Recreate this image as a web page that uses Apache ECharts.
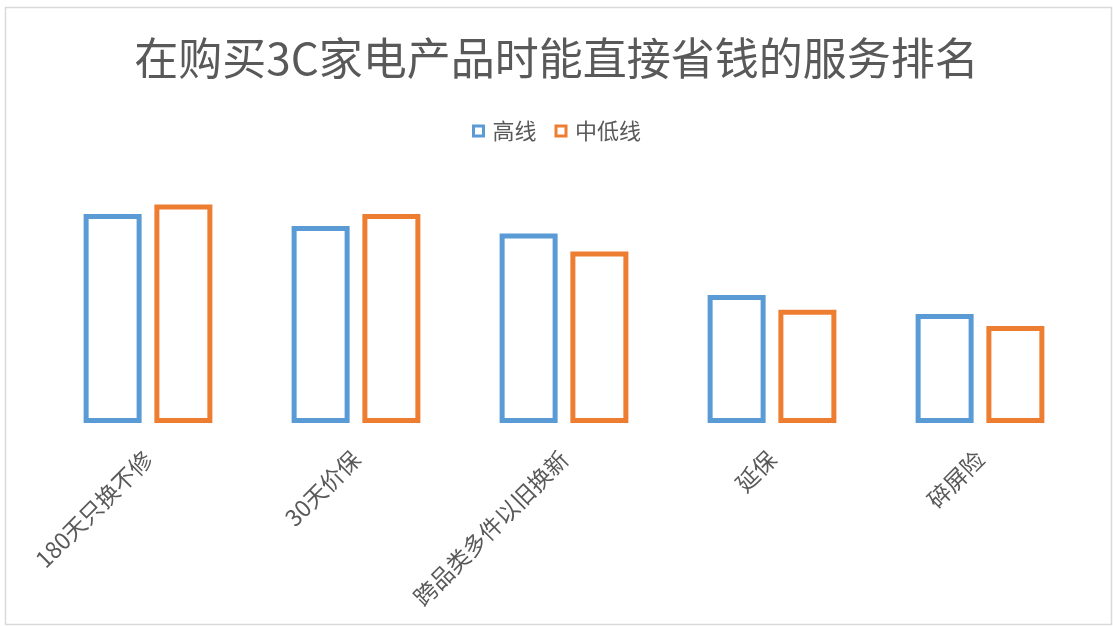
<!DOCTYPE html>
<html>
<head>
<meta charset="utf-8">
<script src="https://cdn.jsdelivr.net/npm/echarts@6/dist/echarts.min.js"></script>
<style>
  html, body { margin: 0; padding: 0; background: #fff; }
  #chart { width: 1113px; height: 626px; }
</style>
</head>
<body>
<div id="chart"></div>
<script>
// Services that save money directly when buying 3C appliances
const categories = ['180天只换不修', '30天价保', '跨品类多件以旧换新', '延保', '碎屏险'];
const seriesNames = ['高线', '中低线'];
const highTier = [52.25, 49.25, 47.4, 32, 27.25];
const lowTier = [54.6, 52.25, 42.9, 28.3, 24.25];

const FONT = '"Noto Sans CJK SC", "Noto Sans", sans-serif';
const TEXT = '#595959';
const BLUE = '#5B9BD5';
const ORANGE = '#ED7D31';

const chart = echarts.init(document.getElementById('chart'), null, { renderer: 'canvas' });

// Hollow bar: white fill with a thick coloured outline
function outlinedBar(name, data, color) {
  return {
    name: name,
    type: 'bar',
    data: data,
    barWidth: 58,
    barGap: '22%',
    itemStyle: { color: '#ffffff', borderColor: color, borderWidth: 5 },
    emphasis: { disabled: true }
  };
}

chart.setOption({
  animation: false,
  backgroundColor: '#ffffff',
  title: {
    text: '在购买3C家电产品时能直接省钱的服务排名',
    left: 'center',
    top: 31,
    textStyle: { fontFamily: FONT, fontSize: 44, fontWeight: 'normal', color: TEXT }
  },
  legend: {
    data: seriesNames,
    top: 115,
    left: 'center',
    icon: 'rect',
    itemWidth: 10,
    itemHeight: 10,
    itemGap: 18,
    textStyle: { fontFamily: FONT, fontSize: 22, color: TEXT, padding: [0, 0, 0, 4] },
    itemStyle: { color: '#ffffff', borderWidth: 3 }
  },
  graphic: [{
    type: 'rect',
    shape: { x: 5.5, y: 7.5, width: 1106, height: 617 },
    style: { fill: 'none', stroke: '#d9d9d9', lineWidth: 1.5 },
    silent: true
  }],
  grid: { left: 44, right: 29, top: 23, bottom: 203 },
  xAxis: {
    type: 'category',
    data: categories,
    axisLine: { show: false },
    axisTick: { show: false },
    axisLabel: {
      rotate: 45,
      margin: 32,
      interval: 0,
      fontFamily: FONT,
      fontSize: 23,
      color: TEXT
    }
  },
  yAxis: {
    type: 'value',
    min: 0,
    max: 100,
    show: false,
    splitLine: { show: false }
  },
  series: [
    outlinedBar(seriesNames[0], highTier, BLUE),
    outlinedBar(seriesNames[1], lowTier, ORANGE)
  ]
});
</script>
</body>
</html>
